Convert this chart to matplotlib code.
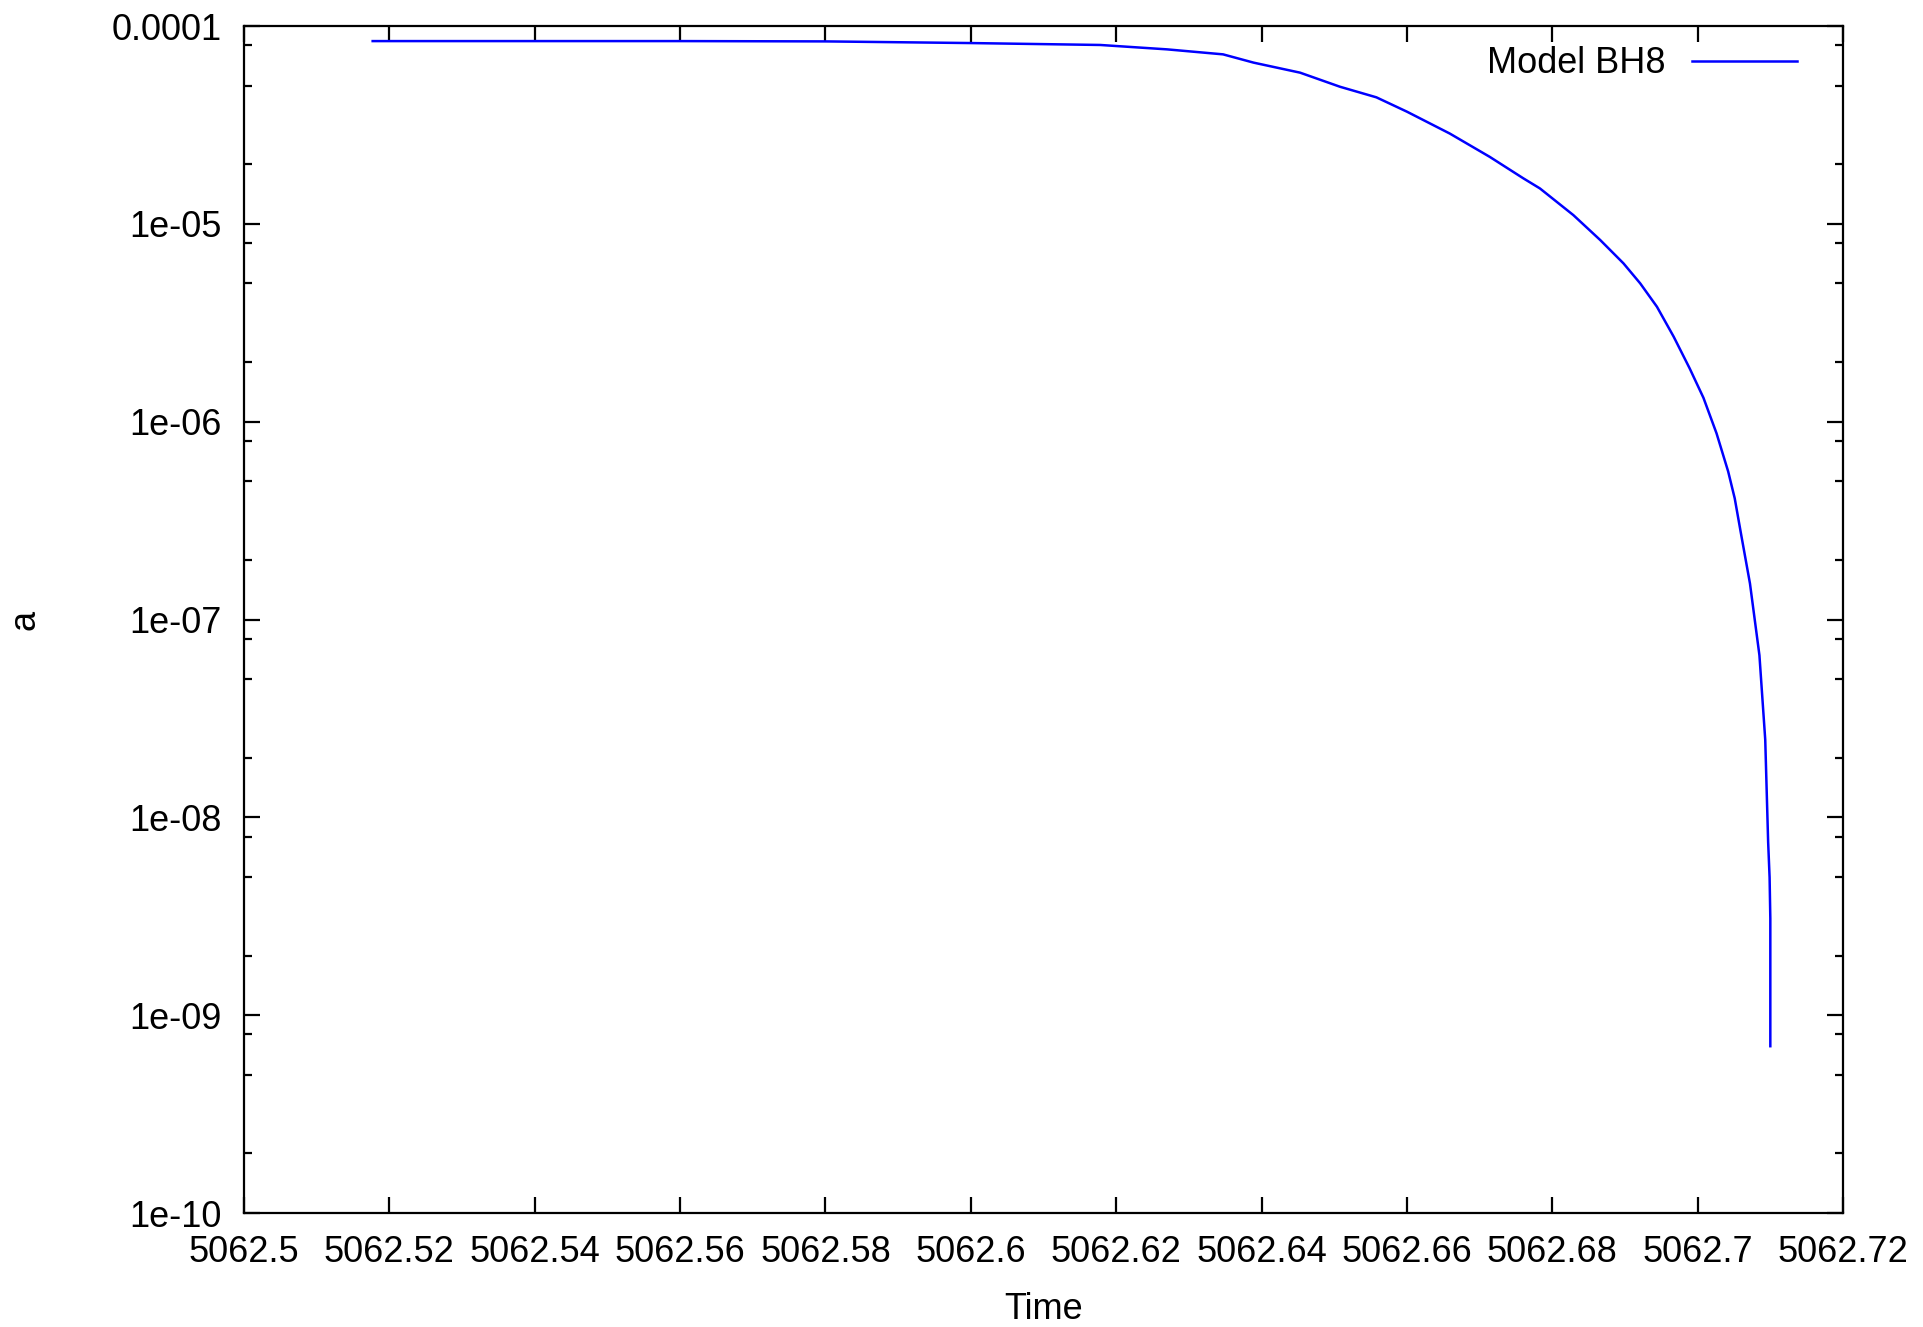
import numpy as np
import matplotlib.pyplot as plt
from matplotlib.ticker import LogLocator, NullFormatter

plt.rcParams['font.family'] = ['Liberation Sans', 'DejaVu Sans']

# semi-major axis of the binary versus time
time = [5062.5177, 5062.56, 5062.58, 5062.60, 5062.6178, 5062.6270, 5062.6347,
        5062.6389, 5062.6453, 5062.6508, 5062.6558, 5062.6600, 5062.6659,
        5062.6714, 5062.6760, 5062.6783, 5062.6829, 5062.6866, 5062.6898,
        5062.6921, 5062.6944, 5062.6967, 5062.6989, 5062.7008, 5062.7026,
        5062.7042, 5062.7051, 5062.7060, 5062.7072, 5062.7085, 5062.7093,
        5062.7095, 5062.7097, 5062.7099, 5062.7100, 5062.7100]
a_sep = [8.39e-5, 8.39e-5, 8.36e-5, 8.20e-5, 8.02e-5, 7.62e-5, 7.19e-5,
         6.53e-5, 5.81e-5, 4.93e-5, 4.36e-5, 3.69e-5, 2.86e-5,
         2.18e-5, 1.70e-5, 1.51e-5, 1.107e-5, 8.28e-6, 6.31e-6,
         5.00e-6, 3.81e-6, 2.69e-6, 1.86e-6, 1.32e-6, 8.73e-7,
         5.60e-7, 4.10e-7, 2.67e-7, 1.52e-7, 6.6e-8, 2.47e-8,
         1.36e-8, 7.5e-9, 4.97e-9, 3.08e-9, 6.97e-10]

x_ticks = [5062.5, 5062.52, 5062.54, 5062.56, 5062.58, 5062.6, 5062.62,
           5062.64, 5062.66, 5062.68, 5062.7, 5062.72]
x_labels = ['5062.5', '5062.52', '5062.54', '5062.56', '5062.58', '5062.6',
            '5062.62', '5062.64', '5062.66', '5062.68', '5062.7', '5062.72']
y_ticks = [1e-10, 1e-9, 1e-8, 1e-7, 1e-6, 1e-5, 1e-4]
y_labels = ['1e-10', '1e-09', '1e-08', '1e-07', '1e-06', '1e-05', '0.0001']

fs = 26

fig = plt.figure(figsize=(19.23, 13.27), dpi=100)
ax = fig.add_axes([0.1269, 0.0859, 0.8315, 0.8945])

ax.plot(time, a_sep, color='#0000ff', lw=1.8, label='Model BH8')

ax.set_yscale('log')
ax.set_xlim(5062.5, 5062.72)
ax.set_ylim(1e-10, 1e-4)

ax.set_xticks(x_ticks)
ax.set_xticklabels(x_labels)
ax.set_yticks(y_ticks)
ax.set_yticklabels(y_labels)
ax.yaxis.set_minor_locator(LogLocator(base=10, subs=[2.0, 5.0, 8.0]))
ax.yaxis.set_minor_formatter(NullFormatter())

ax.tick_params(which='both', direction='in', top=True, right=True, width=1.6,
               labelsize=fs, colors='black')
ax.tick_params(which='major', length=11.5)
ax.tick_params(which='minor', length=5.8)
ax.tick_params(axis='y', pad=16)
ax.tick_params(axis='x', pad=16)
for s in ax.spines.values():
    s.set_linewidth(1.6)

ax.set_xlabel('Time', fontsize=fs, labelpad=16)
ax.set_ylabel('a', fontsize=fs, labelpad=50)

ax.legend(loc='upper right', bbox_to_anchor=(0.9712, 0.983), frameon=False,
          fontsize=fs, markerfirst=False, handlelength=2.9, handletextpad=0.75,
          borderpad=0, borderaxespad=0)

fig.savefig('out.png', dpi=100)
